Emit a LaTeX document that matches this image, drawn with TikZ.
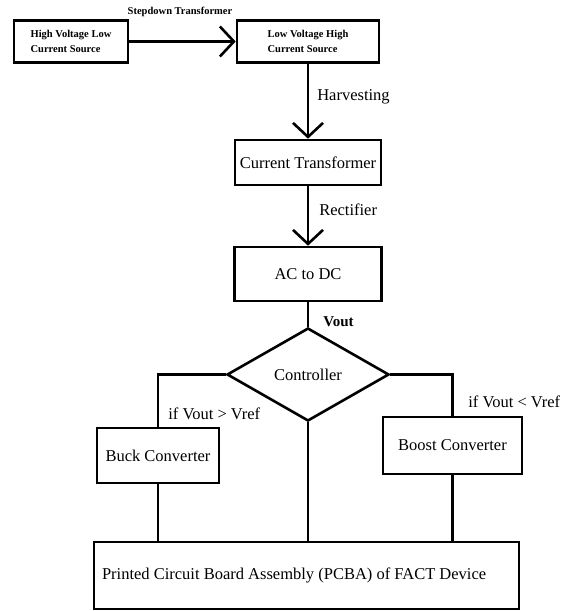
\documentclass[tikz,border=0pt]{standalone}
\usepackage{fontspec}
\setmainfont{Liberation Serif}
\usetikzlibrary{arrows.meta,shapes.geometric}
\begin{document}
\begin{tikzpicture}[x=1pt,y=-1pt,line width=2.6pt,
  box/.style={draw,rectangle,inner sep=0pt,font=\fontsize{16.5}{19}\selectfont},
  smallbox/.style={draw,rectangle,inner sep=0pt,align=left,font=\bfseries\fontsize{10.5}{15}\selectfont},
  lbl/.style={inner sep=0pt,anchor=west,font=\fontsize{16.5}{19}\selectfont},
  arr/.style={-{Straight Barb[length=14pt,width=30pt]}},
  conn/.style={line cap=butt}]
\useasboundingbox (0,0) rectangle (572,611);
\node[smallbox,minimum width=114pt,minimum height=42pt] (hv) at (71,41.5) {High Voltage Low\\Current Source};
\node[smallbox,minimum width=142pt,minimum height=42pt] (lv) at (308,41.5) {Low Voltage High\\Current Source};
\node[box,minimum width=146pt,minimum height=45pt] (ct) at (308,162.5) {Current Transformer};
\node[box,minimum width=147pt,minimum height=54pt] (ac) at (308,274) {AC to DC};
\node[draw,diamond,inner sep=0pt,aspect=1.74,minimum width=162pt,minimum height=93pt,font=\fontsize{16.5}{19}\selectfont] (ctrl) at (308,374.5) {Controller};
\node[box,minimum width=122pt,minimum height=55pt] (buck) at (158,455.5) {Buck Converter};
\node[box,minimum width=139pt,minimum height=57pt] (boost) at (452.5,445.5) {Boost Converter};
\node[box,text width=409pt,inner xsep=8pt,minimum height=67pt,align=flush left] (pcba) at (306.5,575.5) {Printed Circuit Board Assembly (PCBA) of FACT Device};
\draw[arr] (hv.east) -- (lv.west);
\node[inner sep=0pt,font=\bfseries\fontsize{10.5}{12}\selectfont] (sd) at (180,12) {Stepdown Transformer};
\draw[arr] (lv.south) -- (ct.north);
\node[lbl] (hl) at (316,97) {Harvesting};
\draw[arr] (ct.south) -- (ac.north);
\node[lbl] (rl) at (318,210) {Rectifier};
\draw[conn] (ac.south) -- (ctrl.north);
\node[lbl,font=\bfseries\fontsize{15}{18}\selectfont] (vl) at (322,322) {Vout};
\draw[conn] (ctrl.west) -| (buck.north);
\draw[conn] (ctrl.east) -| (boost.north);
\node[lbl] (gl) at (167,414) {if Vout > Vref};
\node[lbl] (ll) at (467,402) {if Vout < Vref};
\draw[conn] (ctrl.south) -- (ctrl.south |- pcba.north);
\draw[conn] (buck.south) -- (buck.south |- pcba.north);
\draw[conn] (boost.south) -- (boost.south |- pcba.north);
\end{tikzpicture}
\end{document}
